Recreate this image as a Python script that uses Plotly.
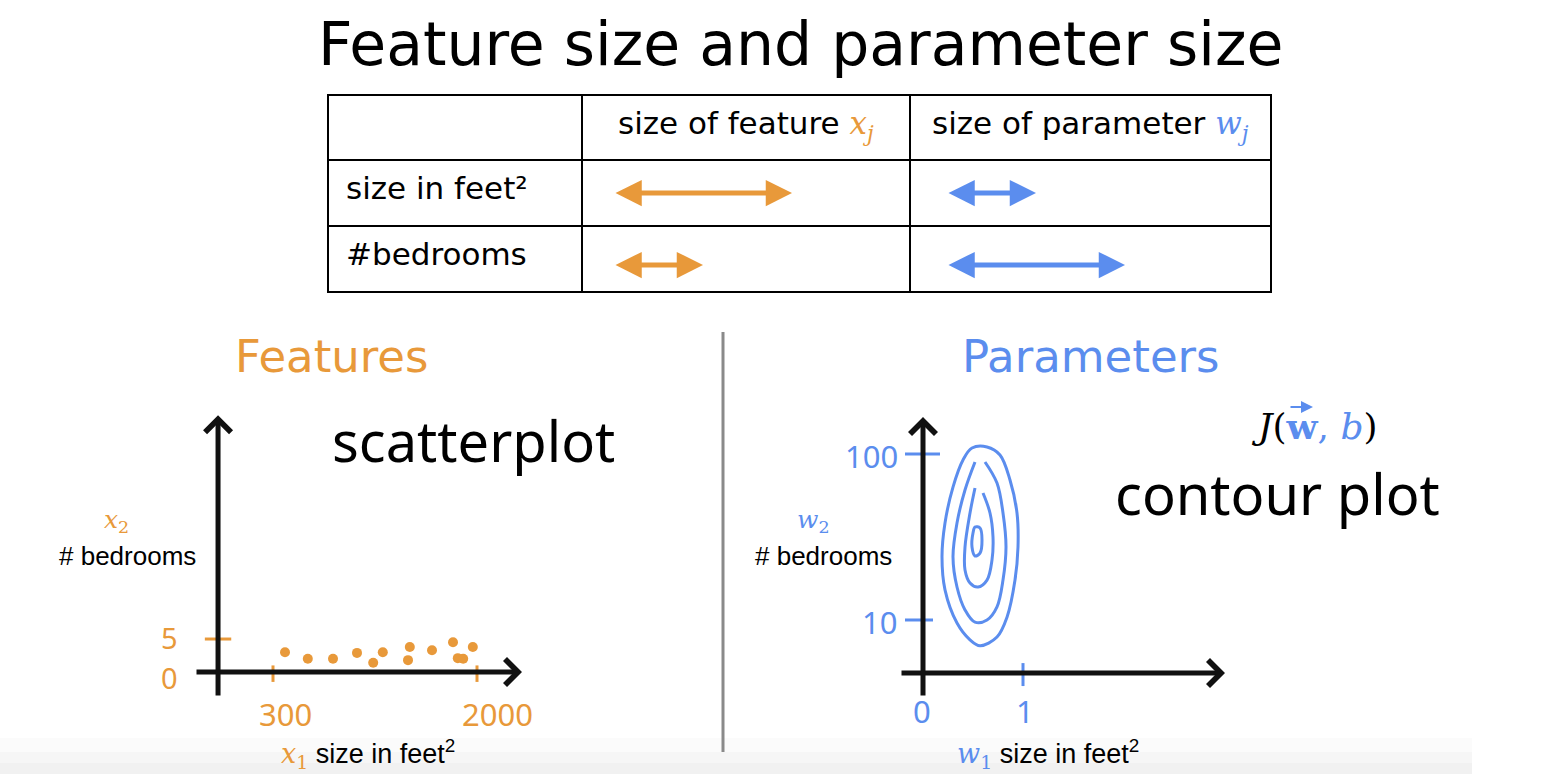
import math
import plotly.graph_objects as go

W, H = 1558, 774
ORANGE = "#E8993A"
BLUE = "#5B8DEE"
BLACK = "#111111"

# ---------------- data ----------------
title_text = "Feature size and parameter size"
col_headers = ["size of feature", "size of parameter"]
col_symbols = ["x", "w"]
row_labels = ["size in feet²", "#bedrooms"]
feature_rel_size = [1.0, 0.5]    # relative range of each feature
param_rel_size = [0.5, 1.0]      # relative size of each parameter

# scatter: x1 = size in feet^2, x2 = # bedrooms
house_size = [400, 590, 800, 1000, 1135, 1215, 1440, 1425, 1625, 1800, 1965, 1840, 1885]
bedrooms = [3.0, 2.0, 2.0, 2.9, 1.4, 3.0, 3.8, 1.8, 3.3, 4.5, 3.8, 2.1, 2.0]
x1_ticks = [300, 2000]
x1_ticktext = ["300", "2000"]
x2_ticks = [0, 5]
x2_ticktext = ["0", "5"]

# contour plot of J(w, b): w1 (size) vs w2 (# bedrooms)
w1_ticks = [0, 1]
w1_ticktext = ["0", "1"]
w2_ticks = [10, 100]
w2_ticktext = ["10", "100"]

c1_w1 = [0.49, 0.64, 0.77, 0.87, 0.94, 0.95, 0.92, 0.84, 0.74, 0.57, 0.47, 0.34, 0.22, 0.19, 0.22, 0.30, 0.40, 0.49]
c1_w2 = [108.6, 110.2, 98.6, 69.7, 44.1, 27.5, 17.4, 10.4, 7.9, 7.0, 7.6, 9.6, 15.2, 24.0, 38.4, 63.2, 92.0, 108.6]
c2_w1 = [0.52, 0.42, 0.34, 0.30, 0.34, 0.42, 0.52, 0.64, 0.74, 0.80, 0.83, 0.80, 0.74, 0.62]
c2_w2 = [89.5, 60.7, 38.4, 24.0, 15.8, 11.5, 9.7, 10.0, 12.0, 17.4, 27.5, 44.1, 66.8, 89.5]
c3_w1 = [0.52, 0.47, 0.42, 0.42, 0.47, 0.55, 0.64, 0.69, 0.70, 0.67, 0.60]
c3_w2 = [62.4, 44.1, 27.5, 20.0, 16.7, 15.8, 17.4, 23.0, 31.6, 44.1, 58.2]
c4_w1 = [0.52, 0.57, 0.59, 0.57, 0.52, 0.49, 0.50, 0.52]
c4_w2 = [36.3, 35.8, 30.3, 25.3, 24.3, 27.5, 33.4, 36.3]


def px(x):
    return x / W


def py(y):
    return 1 - y / H


ann = []
shapes = []


def txt(text, x, y, size, color="black", family="DejaVu Sans", xanchor="center", yanchor="middle",
        xref="paper", yref="paper", **kw):
    ann.append(dict(text=text, x=x, y=y, xref=xref, yref=yref, showarrow=False,
                    xanchor=xanchor, yanchor=yanchor,
                    font=dict(family=family, size=size, color=color), **kw))


fig = go.Figure()

# ---------- scatter (features) ----------
fig.add_trace(go.Scatter(x=house_size, y=bedrooms, mode="markers", xaxis="x", yaxis="y",
                         marker=dict(color=ORANGE, size=10, line=dict(width=0)), hoverinfo="skip"))

tx, ty = [], []
for t in x1_ticks:
    tx += [t, t, None]
    ty += [-1.5, 1.0, None]
for t in x2_ticks:
    tx += [-268, -48, None]
    ty += [t, t, None]
fig.add_trace(go.Scatter(x=tx, y=ty, mode="lines", xaxis="x", yaxis="y",
                         line=dict(color=ORANGE, width=3), hoverinfo="skip"))

# ---------- contours (parameters) ----------
for cx, cy in [(c1_w1, c1_w2), (c2_w1, c2_w2), (c3_w1, c3_w2), (c4_w1, c4_w2)]:
    fig.add_trace(go.Scatter(x=cx, y=cy, mode="lines", xaxis="x2", yaxis="y2",
                             line=dict(color=BLUE, width=3, shape="spline", smoothing=1.0),
                             hoverinfo="skip"))

W2_AXIS = 4.8  # w2 level where the horizontal axis is drawn
rx, ry = [], []
for t in w1_ticks:
    rx += [t, t, None]
    ry += [4.0, 5.5, None]
for t, x1 in zip(w2_ticks, [0.10, 0.17]):
    rx += [-0.18, x1, None]
    ry += [t, t, None]
fig.add_trace(go.Scatter(x=rx, y=ry, mode="lines", xaxis="x2", yaxis="y2",
                         line=dict(color=BLUE, width=3), hoverinfo="skip"))

# title
txt(title_text, px(801), py(44), 60)

# ---------- table ----------
TL, TR, TT, TB = 328, 1271, 95, 292
cols = [582, 910]
rows = [160, 226]
line = dict(color="black", width=2)
shapes.append(dict(type="rect", xref="paper", yref="paper", x0=px(TL), x1=px(TR), y0=py(TB), y1=py(TT), line=line))
for c in cols:
    shapes.append(dict(type="line", xref="paper", yref="paper", x0=px(c), x1=px(c), y0=py(TB), y1=py(TT), line=line))
for r in rows:
    shapes.append(dict(type="line", xref="paper", yref="paper", x0=px(TL), x1=px(TR), y0=py(r), y1=py(r), line=line))

hdr_colors = [ORANGE, BLUE]
for i, (h, s) in enumerate(zip(col_headers, col_symbols)):
    xl = [616, 930][i]
    txt(f"{h} <span style='color:{hdr_colors[i]};font-family:DejaVu Serif'><i>{s}<sub>j</sub></i></span>",
        px(xl), py(125), 31, xanchor="left")
for j, lab in enumerate(row_labels):
    yc = [188, 254][j]
    txt(lab, px(344), py(yc), 31, xanchor="left")

ARROW_FULL = 178
row_y = [193, 265]
for j in range(2):
    for x0, rel, col in [(614, feature_rel_size[j], ORANGE), (947, param_rel_size[j], BLUE)]:
        L = ARROW_FULL * rel
        ann.append(dict(text="", x=px(x0 + L), y=py(row_y[j]), ax=-L, ay=0,
                        xref="paper", yref="paper", axref="pixel", ayref="pixel",
                        showarrow=True, arrowhead=2, startarrowhead=2, arrowside="end+start",
                        arrowwidth=5, arrowsize=1.05, startarrowsize=1.05, arrowcolor=col,
                        standoff=0, startstandoff=0))

# divider
shapes.append(dict(type="line", xref="paper", yref="paper", x0=px(723), x1=px(723), y0=py(752), y1=py(332),
                   line=dict(color="#8a8a8a", width=3)))

# section headings
txt("Features", px(332), py(356), 45, ORANGE)
txt("Parameters", px(1091), py(356), 45, BLUE)

# handwritten-ish notes
txt("scatterplot", px(473), py(440), 56, family="Noto Sans")
txt("contour plot", px(1277), py(493), 56, family="Noto Sans")
txt(f"<i>J</i>(<span style='color:{BLUE}'><b>w</b>, <i>b</i></span>)", px(1314), py(426), 36,
    family="DejaVu Serif")
# vector arrow over w
ann.append(dict(text="", x=px(1313), y=py(407), ax=-24, ay=0, xref="paper", yref="paper",
                axref="pixel", ayref="pixel", showarrow=True, arrowhead=2, arrowwidth=2,
                arrowsize=1.2, arrowcolor=BLUE, standoff=0))

# ---------- left axes ----------
ann.append(dict(text="", x=2375, y=0, ax=-350, ay=0, xref="x", yref="y", axref="x", ayref="y",
                showarrow=True, arrowhead=4, arrowwidth=5, arrowsize=1.0, arrowcolor=BLACK, standoff=0))
ann.append(dict(text="", x=-158, y=38.9, ax=-158, ay=-3.8, xref="x", yref="y", axref="x", ayref="y",
                showarrow=True, arrowhead=4, arrowwidth=5, arrowsize=1.0, arrowcolor=BLACK, standoff=0))
for t, lab, xs in zip(x1_ticks, x1_ticktext, [12, 20]):
    txt(lab, t, py(714), 31, ORANGE, family="Noto Sans", xref="x", xshift=xs)
for t, lab, ys in zip(x2_ticks, x2_ticktext, [-5, 2]):
    txt(lab, px(169), t, 29, ORANGE, family="Noto Sans", yref="y", yshift=ys)
txt("<i>x</i><sub>2</sub>", px(116), py(521), 25, ORANGE, family="DejaVu Serif")
txt("# bedrooms", px(128), py(556), 26, family="Liberation Sans")
txt(f"<span style='color:{ORANGE};font-family:DejaVu Serif'><i>x</i><sub>1</sub></span> size in feet<sup>2</sup>",
    px(368), py(754), 27, family="Liberation Sans")

# ---------- right axes ----------
lw2a = math.log10(W2_AXIS)
ann.append(dict(text="", x=3.02, y=lw2a, ax=-0.23, ay=lw2a, xref="x2", yref="y2", axref="x2", ayref="y2",
                showarrow=True, arrowhead=4, arrowwidth=5, arrowsize=1.0, arrowcolor=BLACK, standoff=0))
ann.append(dict(text="", x=0, y=2.223, ax=0, ay=0.536, xref="x2", yref="y2", axref="x2", ayref="y2",
                showarrow=True, arrowhead=4, arrowwidth=5, arrowsize=1.0, arrowcolor=BLACK, standoff=0))
for t, lab, xs in zip(w1_ticks, w1_ticktext, [-1, 2]):
    txt(lab, t, py(711), 31, BLUE, family="Noto Sans", xref="x2", xshift=xs)
for t, lab, xp in zip(w2_ticks, w2_ticktext, [880, 871]):
    txt(lab, px(xp), math.log10(t), 31, BLUE, family="Noto Sans", yref="y2", yshift=-2)
txt("<i>w</i><sub>2</sub>", px(813), py(521), 25, BLUE, family="DejaVu Serif")
txt("# bedrooms", px(823), py(556), 26, family="Liberation Sans")
txt(f"<span style='color:{BLUE};font-family:DejaVu Serif'><i>w</i><sub>1</sub></span> size in feet<sup>2</sup>",
    px(1048), py(754), 27, family="Liberation Sans")

# faint bottom band
for y0, y1, c in [(738, 752, "#fbfbfb"), (752, 763, "#f6f6f6"), (763, 774, "#f1f1f1")]:
    shapes.append(dict(type="rect", xref="paper", yref="paper", x0=0, x1=px(1472), y0=py(y1), y1=py(y0),
                       line=dict(width=0), fillcolor=c, layer="below"))

fig.update_layout(
    width=W, height=H, margin=dict(l=0, r=0, t=0, b=0),
    paper_bgcolor="white", plot_bgcolor="rgba(0,0,0,0)", showlegend=False,
    font=dict(family="DejaVu Sans"),
    xaxis=dict(domain=[px(180), px(540)], range=[-475, 2525], visible=False, anchor="y"),
    yaxis=dict(domain=[py(700), py(410)], range=[-4.24, 39.7], visible=False, anchor="x"),
    xaxis2=dict(domain=[px(880), px(1240)], range=[-0.43, 3.17], visible=False, anchor="y2"),
    yaxis2=dict(domain=[py(700), py(410)], type="log", range=[0.518, 2.265], visible=False, anchor="x2"),
    annotations=ann, shapes=shapes,
)

fig.write_html("out.html", config={"displayModeBar": False},
               post_script="document.body.style.margin='0';document.body.style.overflow='hidden';")
